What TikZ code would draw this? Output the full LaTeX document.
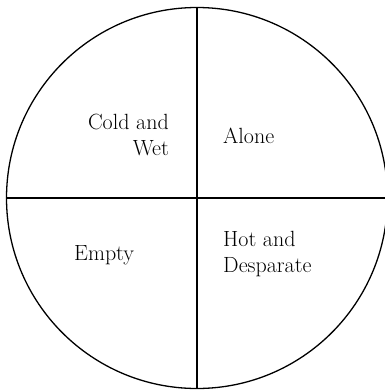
\documentclass[tikz,border=0pt]{standalone}
\usepackage{tikz}
\usetikzlibrary{positioning}

\begin{document}
\begin{tikzpicture}[
        x=1pt, y=-1pt,
        disc/.style={draw=black, circle, line width=1.3pt, inner sep=0pt, outer sep=0pt, minimum size=381pt},
        divider/.style={line width=1.3pt, black},
        label/.style={inner sep=0pt, font=\fontsize{22}{26.5}\selectfont}
    ]
        \useasboundingbox (0,0) rectangle (385,391);
        \node[disc] (wheel) at (197,198) {};
        
        \draw[divider] (wheel.north) -- (wheel.south);
        \draw[divider] (wheel.west) -- (wheel.east);
        
        \node[label, align=right, anchor=east] (cold) at (169,135) {Cold and\\Wet};
        \node[label, anchor=base west] (alone) at (223,143) {Alone};
        \node[label, anchor=base west] (empty) at (74,260) {Empty};
        \node[label, align=left, anchor=west] (hot) at (223,254) {Hot and\\Desparate};
    \end{tikzpicture}
\end{document}
